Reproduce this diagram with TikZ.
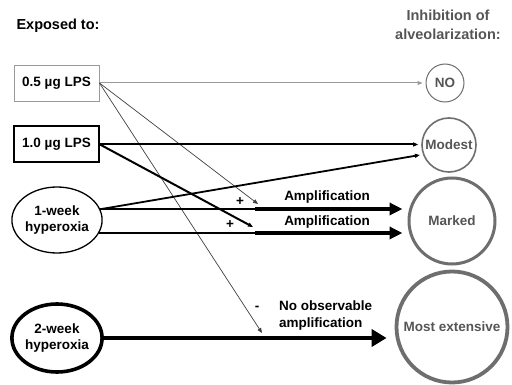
\documentclass[tikz,border=0pt]{standalone}
\usepackage{fontspec}
\setmainfont{Liberation Sans}
\usetikzlibrary{arrows.meta,shapes.geometric,calc}
\definecolor{cgray}{HTML}{6E6E6E}
\definecolor{tgray}{HTML}{555555}
\definecolor{lgray}{HTML}{9A9A9A}
\begin{document}
\begin{tikzpicture}[x=1pt,y=-1pt,
  every node/.style={font=\fontsize{13.5}{16}\selectfont\bfseries},
  srcbox/.style={draw,rectangle,minimum width=85pt,minimum height=36pt,inner sep=0pt},
  srcell/.style={draw,ellipse,align=center,inner sep=0pt},
  outc/.style={draw=cgray,circle,inner sep=0pt,text=tgray},
  small/.style={-{Triangle[length=5pt,width=4pt]}},
  big/.style={-{Triangle[length=13pt,width=12pt]}},
  lab/.style={inner sep=1pt}]
\useasboundingbox (0,0) rectangle (512,385);
% headers
\node[anchor=west,font=\fontsize{14.5}{17}\selectfont\bfseries] (hl) at (13,26) {Exposed to:};
\node[align=center,text=tgray,font=\fontsize{14.5}{19}\selectfont\bfseries] (hr) at (448,25) {Inhibition of\\alveolarization:};
% sources
\node[srcbox,draw=lgray,line width=0.9pt] (l05) at (56.5,83) {0.5 µg LPS};
\node[srcbox,line width=2pt] (l10) at (56.5,144.5) {1.0 µg LPS};
\node[srcell,line width=1.3pt,minimum width=87pt,minimum height=66pt] (h1) at (57,220) {1-week\\hyperoxia};
\node[srcell,line width=3.6pt,minimum width=86pt,minimum height=68pt] (h2) at (57,338) {2-week\\hyperoxia};
% outcomes
\node[outc,line width=1pt,minimum size=38pt] (no) at (445,83) {NO};
\node[outc,line width=1.6pt,minimum size=54pt] (mod) at (449,145) {Modest};
\node[outc,line width=3pt,minimum size=86pt] (mark) at (452,221) {Marked};
\node[outc,line width=3.8pt,minimum size=111pt] (most) at (452,327) {Most extensive};
% junction coordinates
\coordinate (a1) at (255,209);
\coordinate (a2) at (255,233);
\coordinate (t1) at (258,204);
\coordinate (t2) at (253,227);
\coordinate (t3) at (262,333);
% connectors
\draw[lgray,line width=1pt,small,shorten >=3pt] (l05.east) -- (no.west);
\draw[black!75,line width=0.7pt,small] (l05.east) -- (t1);
\draw[black!75,line width=0.7pt,small] (l05.east) -- (t3);
\draw[line width=2pt,small,shorten >=3pt] (l10.east) -- (l10.east -| mod.west);
\draw[line width=2pt,small] (l10.east) -- (t2);
\draw[line width=1.8pt,small,shorten >=3pt] (h1.14) -- (mod.200);
\draw[line width=1.4pt] (a1 -| h1.14) -- (a1);
\draw[line width=1.4pt] (a2 -| h1.-17) -- (a2);
\draw[line width=3.5pt,big,shorten >=5pt] (a1) -- (a1 -| mark.west);
\draw[line width=3.5pt,big,shorten >=5pt] (a2) -- (a2 -| mark.west);
\draw[line width=4.2pt,-{Triangle[length=15pt,width=17pt]},shorten >=8pt] (h2.east) -- (h2.east -| most.west);
% labels
\node[lab] (p1) at (240,202) {+};
\node[lab] (p2) at (230,225) {+};
\node[lab] (m1) at (257,308) {-};
\node[lab] (am1) at (327,197) {Amplification};
\node[lab] (am2) at (327,222) {Amplification};
\node[lab,anchor=west,align=left,font=\fontsize{13.5}{17}\selectfont\bfseries] (noa) at (278,316) {No observable\\amplification};
\end{tikzpicture}
\end{document}
